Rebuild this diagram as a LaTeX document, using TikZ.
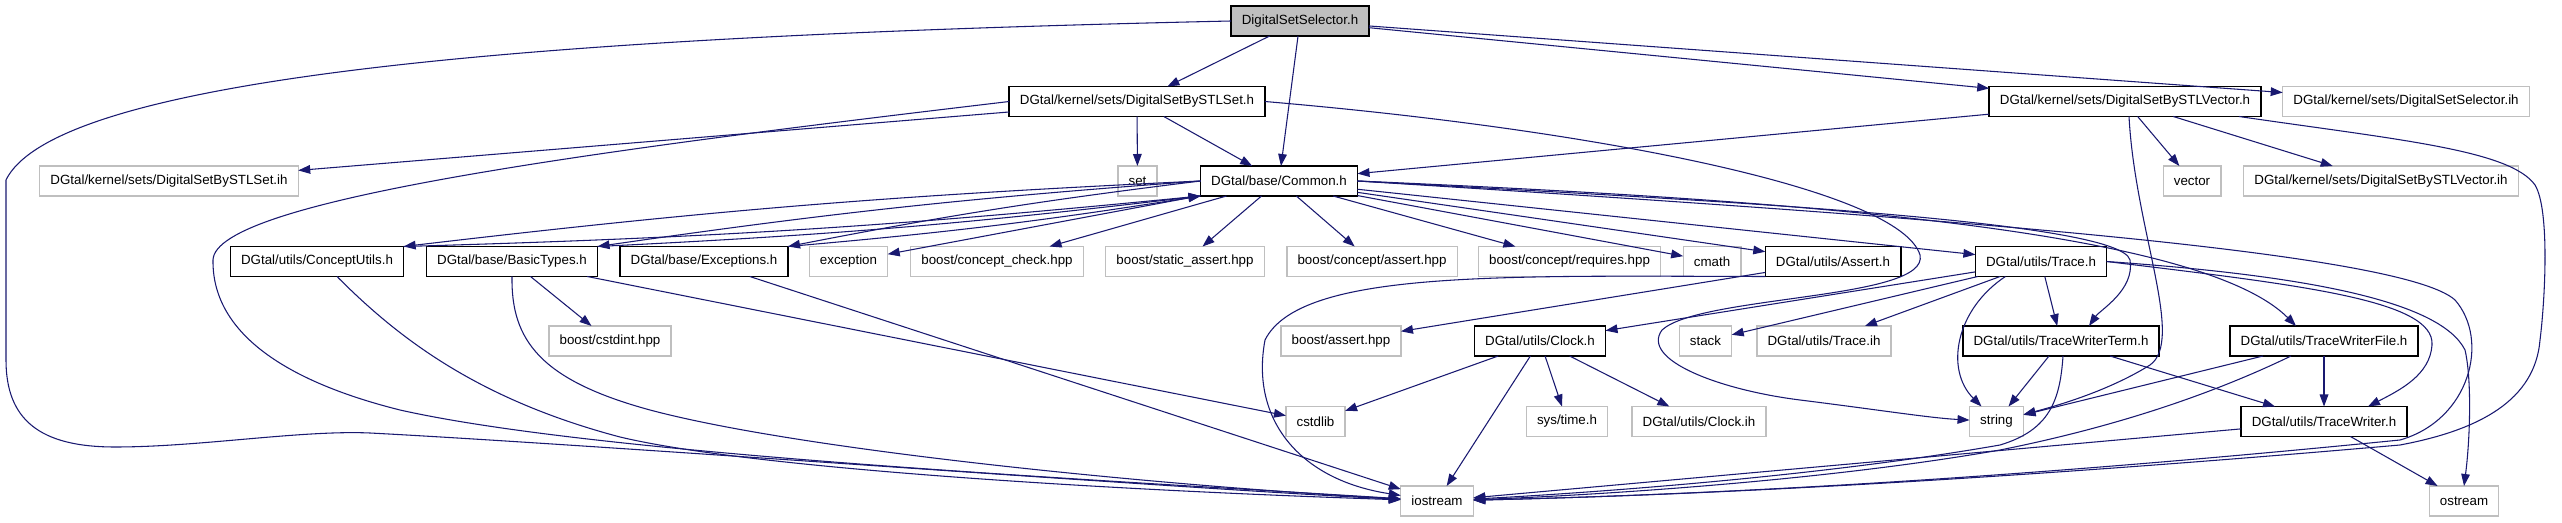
\documentclass[tikz,border=0pt]{standalone}
\usepackage{fontspec}
\setmainfont{Liberation Sans}
\usetikzlibrary{arrows.meta,calc}
\definecolor{edgeblue}{RGB}{25,25,112}
\definecolor{sysgrey}{RGB}{191,191,191}
\definecolor{rootgrey}{RGB}{191,191,191}

\begin{document}
\begin{tikzpicture}[x=0.75pt,y=-0.75pt,every node/.style={font=\fontsize{10}{12}\selectfont},
  hdr/.style={draw=black,line width=1.2pt,fill=white,minimum height=22.5pt,
              inner xsep=8pt,inner ysep=0pt,outer sep=0pt},
  sys/.style={hdr,draw=sysgrey,line width=1pt},
  rootf/.style={hdr,fill=rootgrey},
  inc/.style={-{Triangle[length=9pt,width=6.5pt]},edgeblue,line width=0.8pt}]
\useasboundingbox (0,0) rectangle (2562,523);

% row 0 and 1
\node[rootf] (sel) at (1300,21) {DigitalSetSelector.h};
\node[hdr] (stlset) at (1137,101.5) {DGtal/kernel/sets/DigitalSetBySTLSet.h};
\node[hdr] (stlvec) at (2125,101.5) {DGtal/kernel/sets/DigitalSetBySTLVector.h};
\node[sys] (selih) at (2406,101.5) {DGtal/kernel/sets/DigitalSetSelector.ih};
% row 2
\node[sys] (stlsetih) at (169,181) {DGtal/kernel/sets/DigitalSetBySTLSet.ih};
\node[sys] (set) at (1137.5,181) {set};
\node[hdr] (common) at (1279,181) {DGtal/base/Common.h};
\node[sys] (vector) at (2192,181) {vector};
\node[sys] (stlvecih) at (2381,181) {DGtal/kernel/sets/DigitalSetBySTLVector.ih};
% row 3
\node[hdr] (conceptutils) at (317,261.5) {DGtal/utils/ConceptUtils.h};
\node[hdr] (basictypes) at (512,261.5) {DGtal/base/BasicTypes.h};
\node[hdr] (exceptions) at (704,261.5) {DGtal/base/Exceptions.h};
\node[sys] (exception) at (848.5,261.5) {exception};
\node[sys] (conceptcheck) at (997,261.5) {boost/concept\_check.hpp};
\node[sys] (staticassert) at (1185,261.5) {boost/static\_assert.hpp};
\node[sys] (conceptassert) at (1372,261.5) {boost/concept/assert.hpp};
\node[sys] (requires) at (1569.5,261.5) {boost/concept/requires.hpp};
\node[sys] (cmath) at (1712,261.5) {cmath};
\node[hdr] (assert) at (1833,261.5) {DGtal/utils/Assert.h};
\node[hdr] (trace) at (2041,261.5) {DGtal/utils/Trace.h};
% row 4
\node[sys] (cstdint) at (610,341) {boost/cstdint.hpp};
\node[sys] (boostassert) at (1341,341) {boost/assert.hpp};
\node[hdr] (clock) at (1540,341) {DGtal/utils/Clock.h};
\node[sys] (stack) at (1705.5,341) {stack};
\node[sys] (traceih) at (1824,341) {DGtal/utils/Trace.ih};
\node[hdr] (twterm) at (2061,341) {DGtal/utils/TraceWriterTerm.h};
\node[hdr] (twfile) at (2324,341) {DGtal/utils/TraceWriterFile.h};
% row 5 and 6
\node[sys] (cstdlib) at (1315.5,421.5) {cstdlib};
\node[sys] (systime) at (1567,421.5) {sys/time.h};
\node[sys] (clockih) at (1699,421.5) {DGtal/utils/Clock.ih};
\node[sys] (string) at (1996.5,421.5) {string};
\node[hdr] (tw) at (2324,421.5) {DGtal/utils/TraceWriter.h};
\node[sys] (iostream) at (1437,501) {iostream};
\node[sys] (ostream) at (2464,501) {ostream};

% straight includes
\foreach \a/\b in {sel/stlset, sel/common, sel/stlvec, sel/selih, stlset/set, stlset/common,
    stlset/stlsetih, stlvec/common, stlvec/vector, stlvec/stlvecih, common/exception,
    common/conceptcheck, common/staticassert, common/conceptassert, common/requires,
    common/cmath, common/assert, common/trace, basictypes/cstdint, basictypes/cstdlib,
    exceptions/iostream, assert/boostassert, trace/clock, trace/stack, trace/traceih,
    trace/twterm, clock/cstdlib, clock/iostream, clock/systime, clock/clockih,
    twterm/string, twterm/tw, twfile/string, twfile/tw, tw/iostream, tw/ostream}
  \draw[inc] (\a) -- (\b);

% Common.h and the headers that include it back
\foreach \n in {conceptutils, basictypes, exceptions} {
  \draw[inc] (common.west) to[bend right=2] (\n.north east);
  \draw[inc] (\n.north east) to[bend right=2] (common.south west);
}

% long routes to iostream
\draw[inc] (sel.west) .. controls (600,35) and (60,70) .. (6,180) -- (6,360)
  .. controls (6,420) and (40,447) .. (115,447) .. controls (200,447) and (300,430) .. (370,433)
  .. controls (600,445) and (1200,490) .. (iostream);
\draw[inc] (stlset.west) .. controls (600,150) and (215,200) .. (213,260)
  .. controls (212,330) and (280,380) .. (400,410) .. controls (600,455) and (1100,480) .. (iostream);
\draw[inc] ($(conceptutils.south)+(20,0)$) .. controls (400,340) and (480,400) .. (620,437)
  .. controls (750,468) and (1100,490) .. (iostream);
\draw[inc] (basictypes.south) .. controls (511,340) and (540,380) .. (650,410)
  .. controls (800,450) and (1150,485) .. (iostream);
\draw[inc] (assert.south west) .. controls (1500,276) and (1300,270) .. (1265,340)
  .. controls (1250,420) and (1300,480) .. (iostream);
\draw[inc] ($(stlvec.south)+(114,0)$) .. controls (2400,140) and (2510,150) .. (2535,185)
  .. controls (2550,210) and (2545,300) .. (2540,340) .. controls (2535,400) and (2480,430) .. (2400,445)
  .. controls (2000,480) and (1700,495) .. (iostream);
\draw[inc] (common.east) .. controls (1900,215) and (2400,250) .. (2455,300)
  .. controls (2490,340) and (2470,420) .. (2400,440) .. controls (2000,480) and (1700,495) .. (iostream);
\draw[inc] ($(twterm.south)+(2,0)$) .. controls (2060,400) and (2050,430) .. (2000,445)
  .. controls (1800,480) and (1550,495) .. (iostream);
\draw[inc] ($(twfile.south)+(-33,0)$) .. controls (2200,400) and (2100,430) .. (2000,450)
  .. controls (1800,485) and (1550,497) .. (iostream);

% routes to string
\draw[inc] (stlset.east) .. controls (1600,130) and (1900,190) .. (1920,255)
  .. controls (1930,300) and (1700,295) .. (1662,330) .. controls (1640,360) and (1720,390) .. (1800,400)
  .. controls (1880,410) and (1930,418) .. (string);
\draw[inc] ($(stlvec.south)+(4,0)$) .. controls (2135,230) and (2185,340) .. (2150,365)
  .. controls (2110,390) and (2060,405) .. (string);
\draw[inc] ($(trace.south west)+(30,0)$) .. controls (1955,310) and (1945,370) .. ($(string.north)+(-15,0)$);

% Trace.h and Common.h to the writers
\draw[inc] (trace.east) .. controls (2300,285) and (2435,300) .. (2432,345)
  .. controls (2430,375) and (2400,390) .. ($(tw.north)+(44,0)$);
\draw[inc] (trace.east) .. controls (2300,275) and (2440,300) .. (2465,350)
  .. controls (2472,380) and (2470,440) .. (ostream.north);
\draw[inc] (common.east) .. controls (1700,200) and (2120,220) .. (2130,260)
  .. controls (2135,290) and (2100,310) .. ($(twterm.north)+(28,0)$);
\draw[inc] (common.east) .. controls (1800,200) and (2200,230) .. ($(twfile.north)+(-28,0)$);
\end{tikzpicture}
\end{document}
